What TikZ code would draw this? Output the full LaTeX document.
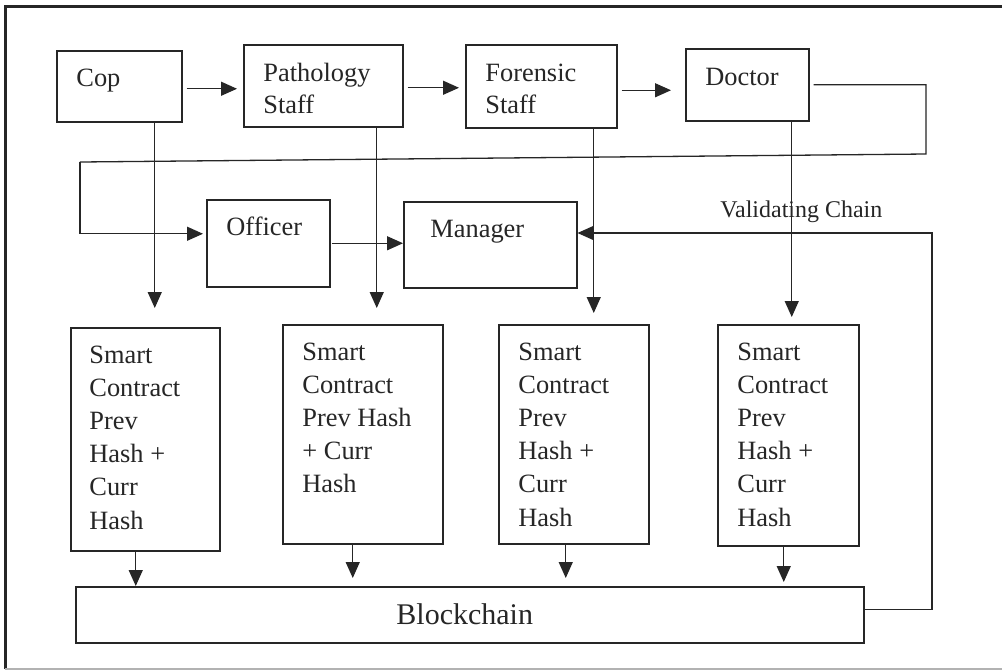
\documentclass[tikz,border=0pt]{standalone}
\usepackage{fontspec}
\setmainfont{Liberation Serif}
\usetikzlibrary{arrows.meta}
\definecolor{ink}{HTML}{262626}
\tikzset{
  box/.style={draw=ink, line width=0.75pt, rectangle, inner sep=0pt, anchor=north west},
  lbl/.style={inner sep=0pt, anchor=base west, text=ink, font=\fontsize{13.2}{16.6}\selectfont},
  arr/.style={draw=ink, line width=0.65pt, -{Triangle[length=8pt,width=7pt]}},
  wire/.style={draw=ink, line width=0.65pt},
}
\newcommand{\lines}[2]{{\fontsize{13.2}{#1}\selectfont\begin{tabular}[t]{@{}l@{}}#2\end{tabular}}}
\begin{document}
\begin{tikzpicture}[x=0.5pt, y=-0.5pt]
\useasboundingbox (0,0) rectangle (1002,671);
\fill[white] (0,0) rectangle (1002,671);
% outer frame
\draw[line width=1.5pt, ink] (1002,6) -- (5,6) -- (5,669);
\draw[line width=0.8pt, black!30] (5,669) -- (1002,669);

% actor boxes
\node[box, minimum width=62.5pt, minimum height=35.5pt] (cop) at (56,50) {};
\node[box, minimum width=79.5pt, minimum height=41pt] (path) at (243,44) {};
\node[box, minimum width=75.5pt, minimum height=41.5pt] (foren) at (465,44) {};
\node[box, minimum width=61.5pt, minimum height=36pt] (doctor) at (685,48) {};
\node[box, minimum width=61.5pt, minimum height=43.5pt] (officer) at (206,199) {};
\node[box, minimum width=86.5pt, minimum height=43pt] (manager) at (403,201) {};

% smart contract boxes
\node[box, minimum width=74.5pt, minimum height=111.5pt] (sc1) at (70,327) {};
\node[box, minimum width=80pt, minimum height=109.5pt] (sc2) at (282,324) {};
\node[box, minimum width=75pt, minimum height=109.5pt] (sc3) at (498,324) {};
\node[box, minimum width=70.5pt, minimum height=110.5pt] (sc4) at (717,324) {};

% ledger
\node[box, minimum width=394pt, minimum height=28pt] (chain) at (75,586) {};

% box texts
\node[lbl] (cop-t) at (76,86) {Cop};
\node[lbl] (path-t) at (263,81) {\lines{16}{Pathology\\Staff}};
\node[lbl] (foren-t) at (485,81) {\lines{16}{Forensic\\Staff}};
\node[lbl] (doctor-t) at (705,85) {Doctor};
\node[lbl] (officer-t) at (226,235) {Officer};
\node[lbl] (manager-t) at (430,237) {Manager};
\node[lbl] (sc1-t) at (89,363) {\lines{16.6}{Smart\\Contract\\Prev\\Hash +\\Curr\\Hash}};
\node[lbl] (sc2-t) at (302,360) {\lines{16.6}{Smart\\Contract\\Prev Hash\\+ Curr\\Hash}};
\node[lbl] (sc3-t) at (518,360) {\lines{16.6}{Smart\\Contract\\Prev\\Hash +\\Curr\\Hash}};
\node[lbl] (sc4-t) at (737,360) {\lines{16.6}{Smart\\Contract\\Prev\\Hash +\\Curr\\Hash}};
\node[lbl, font=\fontsize{15}{18}\selectfont] (chain-t) at (396,624) {Blockchain};
\node[lbl, font=\fontsize{12}{14}\selectfont] (valid-t) at (720,217) {Validating Chain};

% hand-over sequence
\draw[arr, shorten <=2pt, shorten >=3pt] ([yshift=-1.25pt]cop.east) -- ([yshift=-1.25pt]cop.east -| path.west);
\draw[arr, shorten <=2pt, shorten >=3pt] ([yshift=-1pt]path.east) -- ([yshift=-1pt]path.east -| foren.west);
\draw[arr, shorten <=2pt, shorten >=7pt] ([yshift=-2pt]foren.east) -- ([yshift=-2pt]foren.east -| doctor.west);

% feedback loop from doctor to officer
\coordinate (r1) at (926,154);
\coordinate (l1) at (80,162);
\draw[wire] ([xshift=2pt]doctor.east) -| (r1) -- (l1);
\draw[arr, shorten >=1.5pt] (l1) |- ([yshift=4.75pt]officer.west);
\draw[arr, shorten <=0.5pt] (officer.east) -- (officer.east -| manager.west);

% validation loop from ledger to manager
\coordinate (rb) at (932,233);
\draw[arr] ([yshift=2.5pt]chain.east) -| (rb) -- (rb -| manager.east);

% records into smart contracts
\draw[arr, shorten >=9.5pt] ([xshift=17.75pt]cop.south) -- ([xshift=17.75pt]cop.south |- sc1.north);
\draw[arr, shorten >=8pt] ([xshift=26.75pt]path.south) -- ([xshift=26.75pt]path.south |- sc2.north);
\draw[arr, shorten >=5.5pt] ([xshift=26.25pt]foren.south) -- ([xshift=26.25pt]foren.south |- sc3.north);
\draw[arr, shorten >=3.5pt] ([xshift=22.25pt]doctor.south) -- ([xshift=22.25pt]doctor.south |- sc4.north);

% smart contracts into the ledger
\draw[arr] ([xshift=-4.75pt]sc1.south) -- ([xshift=-4.75pt]sc1.south |- chain.north);
\draw[arr, shorten >=4pt] ([xshift=-5pt]sc2.south) -- ([xshift=-5pt]sc2.south |- chain.north);
\draw[arr, shorten >=4pt] ([xshift=-4pt]sc3.south) -- ([xshift=-4pt]sc3.south |- chain.north);
\draw[arr, shorten >=2pt] ([xshift=-2.25pt]sc4.south) -- ([xshift=-2.25pt]sc4.south |- chain.north);
\end{tikzpicture}
\end{document}
